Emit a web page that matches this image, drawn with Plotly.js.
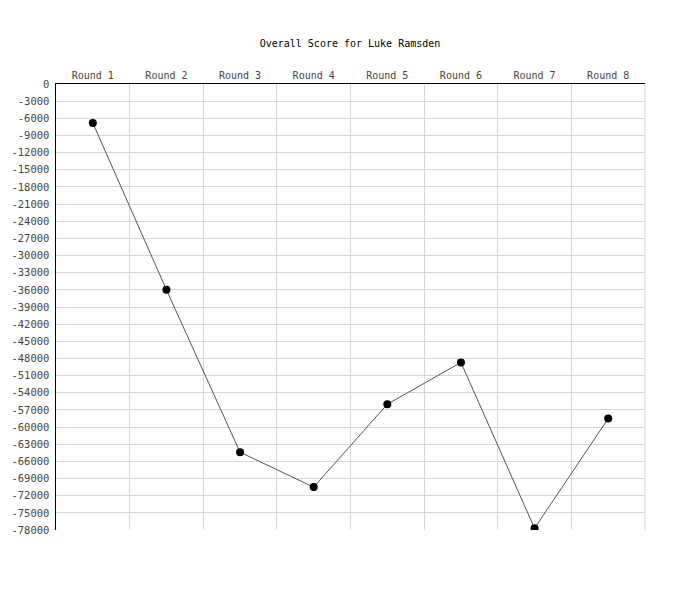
<!DOCTYPE html>
<html>
<head>
<meta charset="utf-8">
<script src="https://cdn.plot.ly/plotly-3.0.1.min.js"></script>
<style>html,body{margin:0;padding:0;background:#fff;}#chart{width:700px;height:600px;}</style>
</head>
<body>
<div id="chart"></div>
<script>
const rounds = ["Round 1","Round 2","Round 3","Round 4","Round 5","Round 6","Round 7","Round 8"];
const scores = [-6800,-36000,-64400,-70500,-56000,-48700,-77700,-58500];
const yTicks = [];
for (let v = 0; v >= -78000; v -= 3000) yTicks.push(v);

const font = "'DejaVu Sans Mono', 'Liberation Mono', monospace";

Plotly.newPlot('chart', [{
  x: rounds,
  y: scores,
  type: 'scatter',
  mode: 'lines+markers',
  line: {color: '#555555', width: 1},
  marker: {color: '#000000', size: 8},
  hoverinfo: 'x+y'
}], {
  width: 700, height: 600,
  margin: {l: 56, r: 55, t: 84, b: 70},
  paper_bgcolor: '#ffffff', plot_bgcolor: '#ffffff',
  showlegend: false,
  title: {text: 'Overall Score for Luke Ramsden', font: {family: font, size: 10, color: '#000'}, x: 0.5, xanchor: 'center', y: 0.928, yanchor: 'middle'},
  xaxis: {
    type: 'category', side: 'top', range: [-0.5, 7.5],
    tickson: 'boundaries', ticks: '', showgrid: true, gridcolor: '#d8d8d8', gridwidth: 1,
    showline: true, linecolor: '#000', linewidth: 1.5,
    tickfont: {family: font, size: 10, color: '#444'}, zeroline: false, fixedrange: true
  },
  yaxis: {
    range: [-78000, 0], tickvals: yTicks, ticktext: yTicks.map(String),
    showgrid: true, gridcolor: '#d8d8d8', gridwidth: 1, zeroline: false,
    showline: true, linecolor: '#000', linewidth: 1.5, ticks: '',
    ticklabelstandoff: 3,
    tickfont: {family: font, size: 10.5, color: '#444'}, fixedrange: true
  },
  shapes: [{type: 'line', xref: 'paper', yref: 'paper', x0: 1, x1: 1, y0: 0, y1: 1, line: {color: '#d8d8d8', width: 1}, layer: 'below'}]
}, {displayModeBar: false, staticPlot: true});
</script>
</body>
</html>
